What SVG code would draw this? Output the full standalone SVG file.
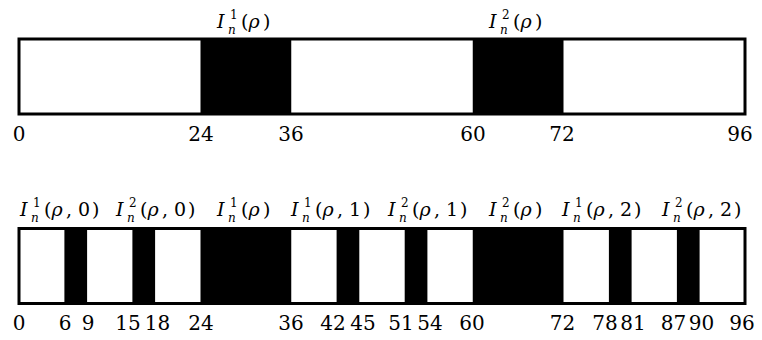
<svg xmlns="http://www.w3.org/2000/svg" width="762" height="340" viewBox="0 0 762 340">
<style>
text{fill:#000;font-family:'DejaVu Serif',serif}
.num{font-size:20px;text-anchor:middle}
.lab{font-size:19px}
.it{font-style:italic}
.s{font-size:12px}
.bar{fill:none;stroke:#000;stroke-width:3}
.blk{fill:#000}
</style>
<rect width="762" height="340" fill="#fff"/>
<g id="top-bar">
<rect x="19" y="39" width="726" height="75" fill="#fff"/>
<rect class="blk" x="200.5" y="39" width="90.75" height="75"/>
<rect class="blk" x="472.75" y="39" width="90.75" height="75"/>
<rect class="bar" x="19" y="39" width="726" height="75"/>
</g>
<g id="top-labels">
<g transform="translate(217,28)"><text class="lab"><tspan class="it" x="0" y="0">I</tspan><tspan class="s" x="13" y="-9">1</tspan><tspan class="s it" x="11" y="5.5">n</tspan><tspan x="24" y="0">(</tspan><tspan class="it" x="31.5" y="0">ρ</tspan><tspan x="46" y="0">)</tspan></text></g>
<g transform="translate(489,28)"><text class="lab"><tspan class="it" x="0" y="0">I</tspan><tspan class="s" x="13" y="-9">2</tspan><tspan class="s it" x="11" y="5.5">n</tspan><tspan x="24" y="0">(</tspan><tspan class="it" x="31.5" y="0">ρ</tspan><tspan x="46" y="0">)</tspan></text></g>
</g>
<g id="top-numbers">
<text class="num" x="19" y="141">0</text>
<text class="num" x="201" y="141">24</text>
<text class="num" x="291" y="141">36</text>
<text class="num" x="473" y="141">60</text>
<text class="num" x="562" y="141">72</text>
<text class="num" x="740" y="141">96</text>
</g>
<g id="bottom-bar">
<rect x="19" y="228.5" width="726" height="75" fill="#fff"/>
<rect class="blk" x="64.4" y="228.5" width="22.7" height="75"/>
<rect class="blk" x="132.4" y="228.5" width="22.7" height="75"/>
<rect class="blk" x="200.5" y="228.5" width="90.75" height="75"/>
<rect class="blk" x="336.6" y="228.5" width="22.7" height="75"/>
<rect class="blk" x="404.7" y="228.5" width="22.7" height="75"/>
<rect class="blk" x="472.75" y="228.5" width="90.75" height="75"/>
<rect class="blk" x="608.9" y="228.5" width="22.7" height="75"/>
<rect class="blk" x="676.9" y="228.5" width="22.7" height="75"/>
<rect class="bar" x="19" y="228.5" width="726" height="75"/>
</g>
<g id="bottom-labels">
<g transform="translate(20,216)"><text class="lab"><tspan class="it" x="0" y="0">I</tspan><tspan class="s" x="13" y="-9">1</tspan><tspan class="s it" x="11" y="5.5">n</tspan><tspan x="24" y="0">(</tspan><tspan class="it" x="31.5" y="0">ρ</tspan><tspan x="46" y="0">,</tspan><tspan x="58" y="0">0</tspan><tspan x="72" y="0">)</tspan></text></g>
<g transform="translate(116,216)"><text class="lab"><tspan class="it" x="0" y="0">I</tspan><tspan class="s" x="13" y="-9">2</tspan><tspan class="s it" x="11" y="5.5">n</tspan><tspan x="24" y="0">(</tspan><tspan class="it" x="31.5" y="0">ρ</tspan><tspan x="46" y="0">,</tspan><tspan x="58" y="0">0</tspan><tspan x="72" y="0">)</tspan></text></g>
<g transform="translate(217,216)"><text class="lab"><tspan class="it" x="0" y="0">I</tspan><tspan class="s" x="13" y="-9">1</tspan><tspan class="s it" x="11" y="5.5">n</tspan><tspan x="24" y="0">(</tspan><tspan class="it" x="31.5" y="0">ρ</tspan><tspan x="46" y="0">)</tspan></text></g>
<g transform="translate(291,216)"><text class="lab"><tspan class="it" x="0" y="0">I</tspan><tspan class="s" x="13" y="-9">1</tspan><tspan class="s it" x="11" y="5.5">n</tspan><tspan x="24" y="0">(</tspan><tspan class="it" x="31.5" y="0">ρ</tspan><tspan x="46" y="0">,</tspan><tspan x="58" y="0">1</tspan><tspan x="72" y="0">)</tspan></text></g>
<g transform="translate(388,216)"><text class="lab"><tspan class="it" x="0" y="0">I</tspan><tspan class="s" x="13" y="-9">2</tspan><tspan class="s it" x="11" y="5.5">n</tspan><tspan x="24" y="0">(</tspan><tspan class="it" x="31.5" y="0">ρ</tspan><tspan x="46" y="0">,</tspan><tspan x="58" y="0">1</tspan><tspan x="72" y="0">)</tspan></text></g>
<g transform="translate(489,216)"><text class="lab"><tspan class="it" x="0" y="0">I</tspan><tspan class="s" x="13" y="-9">2</tspan><tspan class="s it" x="11" y="5.5">n</tspan><tspan x="24" y="0">(</tspan><tspan class="it" x="31.5" y="0">ρ</tspan><tspan x="46" y="0">)</tspan></text></g>
<g transform="translate(562,216)"><text class="lab"><tspan class="it" x="0" y="0">I</tspan><tspan class="s" x="13" y="-9">1</tspan><tspan class="s it" x="11" y="5.5">n</tspan><tspan x="24" y="0">(</tspan><tspan class="it" x="31.5" y="0">ρ</tspan><tspan x="46" y="0">,</tspan><tspan x="58" y="0">2</tspan><tspan x="72" y="0">)</tspan></text></g>
<g transform="translate(662,216)"><text class="lab"><tspan class="it" x="0" y="0">I</tspan><tspan class="s" x="13" y="-9">2</tspan><tspan class="s it" x="11" y="5.5">n</tspan><tspan x="24" y="0">(</tspan><tspan class="it" x="31.5" y="0">ρ</tspan><tspan x="46" y="0">,</tspan><tspan x="58" y="0">2</tspan><tspan x="72" y="0">)</tspan></text></g>
</g>
<g id="bottom-numbers">
<text class="num" x="19" y="330">0</text>
<text class="num" x="65" y="330">6</text>
<text class="num" x="88" y="330">9</text>
<text class="num" x="128" y="330">15</text>
<text class="num" x="157.5" y="330">18</text>
<text class="num" x="201" y="330">24</text>
<text class="num" x="291" y="330">36</text>
<text class="num" x="333" y="330">42</text>
<text class="num" x="363" y="330">45</text>
<text class="num" x="401" y="330">51</text>
<text class="num" x="430" y="330">54</text>
<text class="num" x="472" y="330">60</text>
<text class="num" x="562.5" y="330">72</text>
<text class="num" x="605" y="330">78</text>
<text class="num" x="633" y="330">81</text>
<text class="num" x="673.5" y="330">87</text>
<text class="num" x="701.5" y="330">90</text>
<text class="num" x="742" y="330">96</text>
</g>
</svg>
